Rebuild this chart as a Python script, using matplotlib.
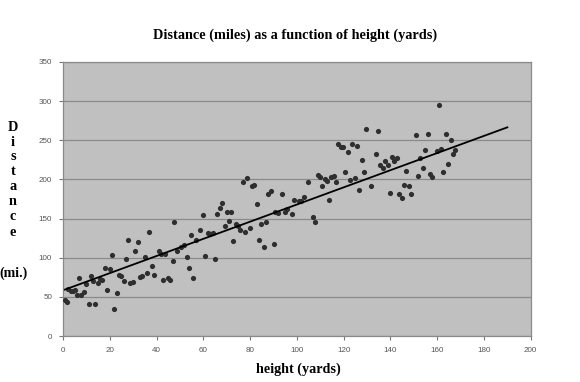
import matplotlib.pyplot as plt
import numpy as np

# Data: height (yards) vs distance (miles)
height = [0.7, 1.7, 2.1, 3.2, 4.0, 4.9, 5.7, 6.9, 7.7, 8.9, 9.7, 10.9, 11.7, 12.8, 13.7,
          14.8, 15.7, 16.7, 18.0, 18.8, 19.8, 20.8, 21.8, 22.8, 23.9, 24.8, 25.8, 26.8,
          27.8, 28.6, 29.7, 30.8, 31.8, 32.8, 33.8, 34.9, 35.8, 36.8, 37.8, 38.9, 41.0,
          41.9, 42.8, 43.6, 44.9, 45.6, 46.8, 47.6, 48.7, 50.6, 51.7, 52.8, 53.7, 54.7,
          55.7, 56.7, 58.7, 59.9, 60.7, 62.0, 63.0, 63.9, 64.9, 65.8, 67.0, 67.8, 69.0,
          69.9, 70.8, 71.8, 72.8, 73.8, 74.8, 75.7, 76.8, 77.8, 78.8, 79.7, 80.7, 81.7,
          82.7, 83.8, 84.8, 85.8, 86.8, 87.8, 88.8, 90.0, 90.8, 91.9, 93.8, 94.8, 95.8,
          97.8, 98.8, 100.9, 101.9, 102.9, 104.9, 106.9, 107.7, 108.8, 109.7, 110.7,
          111.8, 112.7, 113.7, 114.7, 115.7, 116.7, 117.7, 118.7, 119.7, 120.7, 121.7,
          122.7, 123.7, 124.7, 125.7, 126.7, 127.7, 128.7, 129.7, 131.7, 133.7, 134.7,
          135.4, 136.8, 137.7, 138.8, 139.7, 140.8, 141.7, 142.8, 143.7, 144.8, 145.7,
          146.8, 147.8, 148.8, 150.8, 151.9, 152.8, 153.8, 154.8, 155.9, 156.8, 157.8,
          159.8, 160.6, 161.8, 162.6, 163.8, 164.6, 165.8, 166.9, 167.8]
distance = [46, 43, 60, 58, 57, 59, 52, 74, 52, 56, 66, 41, 77, 70, 41,
            68, 73, 72, 87, 59, 86, 104, 34, 55, 78, 77, 70, 98,
            122, 68, 69, 108, 120, 75, 77, 101, 81, 133, 89, 78, 108,
            105, 72, 105, 74, 71, 96, 145, 109, 114, 116, 101, 87, 129,
            74, 122, 135, 155, 102, 131, 130, 131, 99, 156, 164, 170, 141,
            158, 147, 158, 121, 143, 140, 135, 197, 133, 202, 138, 192, 193,
            168, 122, 143, 114, 145, 182, 185, 117, 158, 157, 181, 159, 162,
            156, 174, 172, 172, 178, 197, 152, 145, 206, 203, 191,
            201, 198, 174, 203, 204, 197, 245, 242, 242, 210, 235,
            199, 245, 202, 243, 186, 225, 209, 264, 191, 232, 262,
            218, 215, 224, 218, 183, 229, 224, 227, 181, 176, 193,
            211, 192, 181, 257, 204, 227, 214, 237, 258, 207, 203,
            236, 295, 239, 210, 258, 220, 250, 232, 237]

# linear trendline, extended forward to 190
trend_slope = 1.095
trend_intercept = 58.5
trend_end = 190

x_ticks = [0, 20, 40, 60, 80, 100, 120, 140, 160, 180, 200]
y_ticks = [0, 50, 100, 150, 200, 250, 300, 350]

x = np.array(height)
y = np.array(distance)

fig = plt.figure(figsize=(5.8, 3.82), dpi=100)
ax = fig.add_axes([0.109, 0.1204, 0.806, 0.7173])
ax.set_facecolor("#c0c0c0")

ax.scatter(x, y, s=14, color="#2e2e2e", zorder=3, linewidths=0)
xl = np.array([x.min(), trend_end])
ax.plot(xl, trend_slope * xl + trend_intercept, color="black", lw=1.3, zorder=4)

ax.set_xlim(0, 200)
ax.set_ylim(0, 350)
ax.set_xticks(x_ticks)
ax.set_yticks(y_ticks)
ax.grid(True, axis="y", color="#8a8a8a", lw=0.9)
ax.set_axisbelow(True)
for s in ax.spines.values():
    s.set_color("#8a8a8a")
    s.set_linewidth(0.9)
ax.tick_params(length=3, width=0.8, color="#777777", labelsize=5.8,
               labelcolor="#555555", pad=5)
for lab in ax.get_xticklabels() + ax.get_yticklabels():
    lab.set_fontfamily("Liberation Sans")

serif = "Liberation Serif"
fig.text(0.509, 1 - 35 / 382, "Distance (miles) as a function of height (yards)",
         ha="center", va="center", fontsize=10.3, fontweight="bold", family=serif)
fig.text(0.514, 1 - 369 / 382, "height (yards)", ha="center", va="center",
         fontsize=10.2, fontweight="bold", family=serif)

# stacked y-axis label
letters = "Distance"
for i, ch in enumerate(letters):
    fig.text(13 / 580, 1 - (127 + i * 15) / 382, ch, ha="center", va="center",
             fontsize=10.3, fontweight="bold", family=serif)
fig.text(13.5 / 580, 1 - 273 / 382, "(mi.)", ha="center", va="center",
         fontsize=10, fontweight="bold", family=serif)

fig.savefig("out.png", dpi=100)
